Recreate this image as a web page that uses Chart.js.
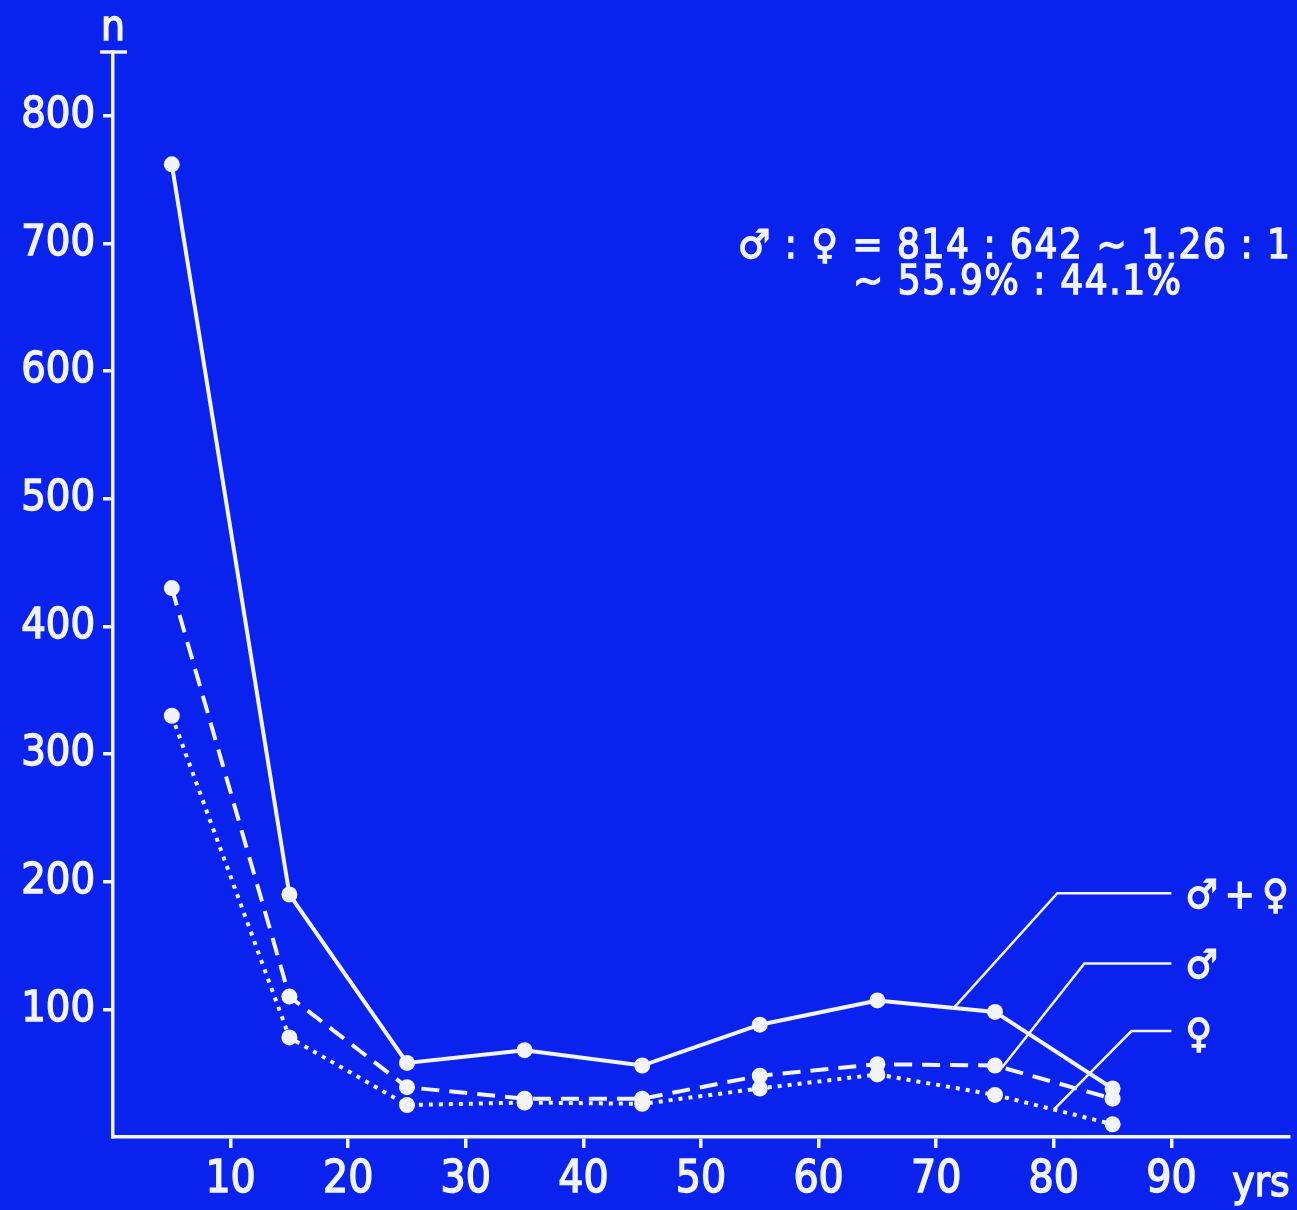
<!DOCTYPE html>
<html>
<head>
<meta charset="utf-8">
<script src="https://cdn.jsdelivr.net/npm/chart.js@4.4.1/dist/chart.umd.min.js"></script>
<style>
  html, body { margin: 0; padding: 0; background: #0a22ee; }
  #wrap { width: 1297px; height: 1210px; }
</style>
</head>
<body>
<div id="wrap"><canvas id="chart"></canvas></div>
<script>
// age groups (midpoints) and counts per group
const ages = [5, 15, 25, 35, 45, 55, 65, 75, 85]
const totalCounts = [762, 190, 58, 68, 56, 88, 107, 98, 38]
const maleCounts = [430, 110, 39, 30, 30, 48, 57, 56, 30]
const femaleCounts = [330, 78, 25, 27, 26, 38, 49, 33, 10]

const xTicks = [10, 20, 30, 40, 50, 60, 70, 80, 90]
const yTicks = [100, 200, 300, 400, 500, 600, 700, 800]

const ratioLine1 = "\u2642 : \u2640 = 814 : 642 \u223C 1.26 : 1"
const ratioLine2 = "\u223C 55.9% : 44.1%"

const ink = "#f2f5ff"
const font = "'DejaVu Sans Condensed', 'DejaVu Sans', sans-serif"
const textStroke = 1.4

const toPoints = (vals) => ages.map((a, i) => ({ x: a, y: vals[i] }))

// y value on a series at an arbitrary age, by straight interpolation
function valueAt(vals, age) {
  for (let i = 0; i < ages.length - 1; i++) {
    if (age >= ages[i] && age <= ages[i + 1]) {
      const t = (age - ages[i]) / (ages[i + 1] - ages[i])
      return vals[i] + t * (vals[i + 1] - vals[i])
    }
  }
  return vals[vals.length - 1]
}

// filled text with a thin outline so it reads a bit heavier
function heavyText(ctx, text, x, y) {
  ctx.lineWidth = textStroke
  ctx.strokeText(text, x, y)
  ctx.fillText(text, x, y)
}

// text stretched over a given width with letter spacing
function spreadText(ctx, text, x, y, width) {
  ctx.letterSpacing = "0px"
  const w = ctx.measureText(text).width
  const gap = (width - w) / (text.length - 1)
  ctx.letterSpacing = gap + "px"
  heavyText(ctx, text, x, y)
  ctx.letterSpacing = "0px"
}

// leader lines: start on the series, bend, then run right to the symbol
const leaders = [
  { vals: totalCounts, from: 71.5, kneeX: 80.3, kneeY: 191, label: "\u2642\u2009+\u2009\u2640", dy: 4 },
  { vals: maleCounts, from: 75.6, kneeX: 82.6, kneeY: 136, label: "\u2642", dy: 4 },
  { vals: femaleCounts, from: 80.0, kneeX: 86.6, kneeY: 83, label: "\u2640", dy: 6 },
]

const extras = {
  id: "extras",
  afterDraw(chart) {
    const { ctx, scales: { x, y }, chartArea } = chart
    ctx.save()
    ctx.strokeStyle = ink
    ctx.fillStyle = ink

    // cap on top of the y axis and its "n"
    ctx.lineWidth = 3.5
    ctx.beginPath()
    ctx.moveTo(chartArea.left - 13, chartArea.top)
    ctx.lineTo(chartArea.left + 14, chartArea.top)
    ctx.stroke()
    ctx.font = `42px ${font}`
    ctx.textAlign = "center"
    ctx.textBaseline = "alphabetic"
    heavyText(ctx, "n", chartArea.left, chartArea.top - 12)

    // unit on the x axis
    heavyText(ctx, "yrs", 1261, 1196)

    // ratio note
    ctx.font = `40px ${font}`
    ctx.textAlign = "left"
    ctx.textBaseline = "middle"
    spreadText(ctx, ratioLine1, 738, 248, 552)
    spreadText(ctx, ratioLine2, 853, 284, 328)

    // leaders
    ctx.font = `40px ${font}`
    const endX = x.getPixelForValue(90)
    leaders.forEach((l) => {
      const sx = x.getPixelForValue(l.from)
      const sy = y.getPixelForValue(valueAt(l.vals, l.from))
      const kx = x.getPixelForValue(l.kneeX)
      const ky = y.getPixelForValue(l.kneeY)
      ctx.lineWidth = 2.5
      ctx.beginPath()
      ctx.moveTo(sx, sy)
      ctx.lineTo(kx, ky)
      ctx.lineTo(endX, ky)
      ctx.stroke()
      heavyText(ctx, l.label, endX + 14, ky + l.dy)
    })
    ctx.restore()
  },
}

const lineStyle = (data, dash, width) => ({
  data,
  borderColor: ink,
  borderWidth: width,
  borderDash: dash,
  pointRadius: 8,
  pointBackgroundColor: ink,
  pointBorderColor: ink,
  pointBorderWidth: 0,
  tension: 0,
})

const tickFont = (size) => ({ family: font, size })

new Chart(document.getElementById("chart"), {
  type: "line",
  data: {
    datasets: [
      lineStyle(toPoints(totalCounts), [], 4),
      lineStyle(toPoints(maleCounts), [18, 10], 4),
      lineStyle(toPoints(femaleCounts), [4, 6], 4),
    ],
  },
  options: {
    responsive: true,
    maintainAspectRatio: false,
    animation: false,
    layout: { padding: { top: 52, right: 7, bottom: 13, left: 0 } },
    plugins: { legend: { display: false }, tooltip: { enabled: false } },
    scales: {
      x: {
        type: "linear",
        min: 0,
        max: 100,
        afterBuildTicks: (s) => { s.ticks = xTicks.map((v) => ({ value: v })) },
        afterFit: (s) => { s.height = 60 },
        grid: { drawOnChartArea: false, drawTicks: true, tickLength: 11, color: ink, lineWidth: 3.5 },
        border: { color: ink, width: 3.5 },
        ticks: {
          color: ink, padding: 6, font: tickFont(44),
          textStrokeColor: ink, textStrokeWidth: textStroke,
        },
      },
      y: {
        min: 0,
        max: 850,
        afterBuildTicks: (s) => { s.ticks = yTicks.map((v) => ({ value: v })) },
        afterFit: (s) => { s.width = 113 },
        grid: { drawOnChartArea: false, drawTicks: true, tickLength: 10, color: ink, lineWidth: 3.5 },
        border: { color: ink, width: 3.5 },
        ticks: {
          color: ink, padding: 8, font: tickFont(43),
          textStrokeColor: ink, textStrokeWidth: textStroke,
        },
      },
    },
  },
  plugins: [extras],
})
</script>
</body>
</html>
